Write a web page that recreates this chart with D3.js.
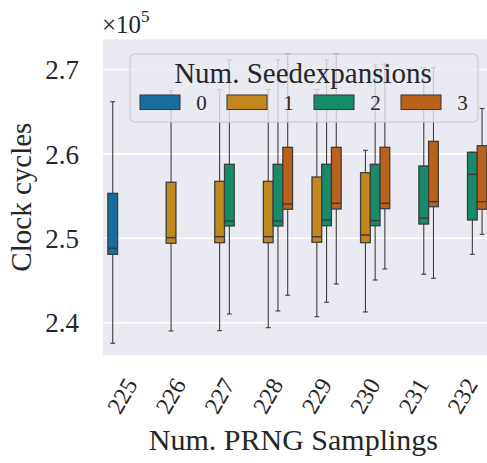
<!DOCTYPE html>
<html>
<head>
<meta charset="utf-8">
<script src="https://cdn.jsdelivr.net/npm/d3@7"></script>
<style>
  html, body { margin: 0; padding: 0; background: #ffffff; }
  svg { display: block; }
  text { font-family: "Liberation Serif", "DejaVu Serif", serif; fill: #262626; }
</style>
</head>
<body>
<svg id="chart" width="487" height="463"></svg>
<script>
// ---------- data ----------
const categories = ["225", "226", "227", "228", "229", "230", "231", "232"];
const hueLevels = ["0", "1", "2", "3"];
const hueColors = ["#176d9c", "#c38720", "#168b6a", "#ba611b"];
// rows: hue 0..3, columns: categories 225..232 (null = no box)
const whiskerLow = [
  [237560, null, null, null, null, null, null, null],
  [null, 239020, 239050, 239410, 240710, 241270, null, null],
  [null, null, 241030, 241390, 242420, 245060, 245740, 248100],
  [null, null, null, 243250, 244590, 246360, 245260, 250470]
];
const q1 = [
  [248100, null, null, null, null, null, null, null],
  [null, 249410, 249480, 249480, 249530, 249480, null, null],
  [null, null, 251460, 251460, 251490, 251490, 251690, 252170],
  [null, null, null, 253440, 253470, 253510, 253740, 253440]
];
const median = [
  [248820, null, null, null, null, null, null, null],
  [null, 250070, 250190, 250190, 250190, 250390, null, null],
  [null, null, 252050, 252050, 252170, 252090, 252370, 257580],
  [null, null, null, 254060, 254150, 254150, 254340, 254340]
];
const q3 = [
  [255330, null, null, null, null, null, null, null],
  [null, 256640, 256750, 256750, 257260, 257770, null, null],
  [null, null, 258770, 258770, 258770, 258770, 258570, 260190],
  [null, null, null, 260780, 260780, 260780, 261490, 260970]
];
const whiskerHigh = [
  [266180, null, null, null, null, null, null, null],
  [null, 267490, 267630, 267630, 267630, 260430, null, null],
  [null, null, 271120, 271120, 271120, 270530, 270180, 260190],
  [null, null, null, 271840, 271840, 270650, 270210, 265380]
];
const yTicks = [240000, 250000, 260000, 270000];
const yDomain = [236170, 273580];
const xTitle = "Num. PRNG Samplings";
const yTitle = "Clock cycles";
const legendTitle = "Num. Seedexpansions";

// ---------- layout ----------
const W = 487, H = 463;
const plot = { left: 103, right: 491.8, top: 39.3, bottom: 355 };
const lineColor = "#3d3d3d";

const svg = d3.select("#chart");

const x = d3.scaleBand().domain(categories).range([plot.left, plot.right]).paddingInner(0).paddingOuter(0);
const xHue = d3.scaleBand().domain(hueLevels).range([0.1 * x.bandwidth(), 0.9 * x.bandwidth()]);
const y = d3.scaleLinear().domain(yDomain).range([plot.bottom, plot.top]);

// background
svg.append("rect")
  .attr("x", plot.left).attr("y", plot.top)
  .attr("width", plot.right - plot.left).attr("height", plot.bottom - plot.top)
  .attr("fill", "#eaeaf2");

// y axis via d3.axisLeft
const yAxis = d3.axisLeft(y).tickValues(yTicks).tickFormat(d => (d / 1e5).toFixed(1)).tickSize(0).tickPadding(24);
const gy = svg.append("g").attr("transform", `translate(${plot.left},0)`).call(yAxis);
gy.select(".domain").remove();
gy.selectAll("text")
  .attr("font-family", "Liberation Serif, DejaVu Serif, serif")
  .attr("font-size", 27).attr("fill", "#262626")
  .attr("dy", "0.34em");

// grid
svg.append("g").selectAll("line").data(yTicks).join("line")
  .attr("x1", plot.left).attr("x2", plot.right)
  .attr("y1", d => y(d)).attr("y2", d => y(d))
  .attr("stroke", "#ffffff").attr("stroke-width", 1.6);

// offset text ×10^5
const off = svg.append("text").attr("x", 102).attr("y", 33).style("font-size", "25px");
off.append("tspan").style("font-size", "25px").text("×10");
off.append("tspan").style("font-size", "17px").attr("dy", -11).text("5");

// x axis labels via d3.axisBottom
const xAxis = d3.axisBottom(x).tickSize(0).tickPadding(0);
const gx = svg.append("g").attr("transform", `translate(0,${plot.bottom})`).call(xAxis);
gx.select(".domain").remove();
gx.selectAll("text")
  .attr("font-family", "Liberation Serif, DejaVu Serif, serif")
  .attr("font-size", 24).attr("fill", "#262626")
  .attr("text-anchor", "middle")
  .attr("dy", null)
  .attr("y", 0)
  .attr("dominant-baseline", "central")
  .attr("transform", "translate(-5,41) rotate(-60)");

// axis titles
svg.append("text").attr("x", (plot.left + plot.right) / 2 - 4).attr("y", 450)
  .attr("text-anchor", "middle").attr("font-size", 30).text(xTitle);
svg.append("text")
  .attr("transform", `translate(31,${(plot.top + plot.bottom) / 2}) rotate(-90)`)
  .attr("text-anchor", "middle").attr("font-size", 29).text(yTitle);

// boxes
const boxes = [];
hueLevels.forEach((h, hi) => {
  categories.forEach((c, ci) => {
    if (median[hi][ci] == null) return;
    boxes.push({ c, h, hi, lo: whiskerLow[hi][ci], q1: q1[hi][ci], med: median[hi][ci], q3: q3[hi][ci], hiW: whiskerHigh[hi][ci] });
  });
});

const gb = svg.append("g");
const bw = xHue.bandwidth();
const capW = bw * 0.5;
boxes.forEach(b => {
  const cx = x(b.c) + xHue(b.h) + bw / 2;
  const g = gb.append("g");
  g.append("line").attr("x1", cx).attr("x2", cx).attr("y1", y(b.q3)).attr("y2", y(b.hiW))
    .attr("stroke", lineColor).attr("stroke-width", 1.1);
  g.append("line").attr("x1", cx).attr("x2", cx).attr("y1", y(b.q1)).attr("y2", y(b.lo))
    .attr("stroke", lineColor).attr("stroke-width", 1.1);
  g.append("line").attr("x1", cx - capW / 2).attr("x2", cx + capW / 2).attr("y1", y(b.hiW)).attr("y2", y(b.hiW))
    .attr("stroke", lineColor).attr("stroke-width", 1.1);
  g.append("line").attr("x1", cx - capW / 2).attr("x2", cx + capW / 2).attr("y1", y(b.lo)).attr("y2", y(b.lo))
    .attr("stroke", lineColor).attr("stroke-width", 1.1);
  g.append("rect").attr("x", x(b.c) + xHue(b.h)).attr("width", bw)
    .attr("y", y(b.q3)).attr("height", y(b.q1) - y(b.q3))
    .attr("fill", hueColors[b.hi]).attr("stroke", lineColor).attr("stroke-width", 1.3);
  g.append("line").attr("x1", x(b.c) + xHue(b.h)).attr("x2", x(b.c) + xHue(b.h) + bw)
    .attr("y1", y(b.med)).attr("y2", y(b.med))
    .attr("stroke", lineColor).attr("stroke-width", 1.5);
});

// legend
const lg = svg.append("g");
lg.append("rect").attr("x", 130).attr("y", 54).attr("width", 348).attr("height", 68).attr("rx", 5)
  .attr("fill", "#eaeaf2").attr("fill-opacity", 0.8)
  .attr("stroke", "#cccccc").attr("stroke-opacity", 0.8).attr("stroke-width", 1.3);
lg.append("text").attr("x", 303).attr("y", 83).attr("text-anchor", "middle").attr("font-size", 29).text(legendTitle);
hueLevels.forEach((h, i) => {
  const lx = 140 + i * 87;
  lg.append("rect").attr("x", lx).attr("y", 95).attr("width", 40).attr("height", 14.5)
    .attr("fill", hueColors[i]).attr("stroke", lineColor).attr("stroke-width", 1.1);
  lg.append("text").attr("x", lx + 61.5).attr("y", 109.5).attr("text-anchor", "middle").attr("font-size", 21).text(h);
});
</script>
</body>
</html>
